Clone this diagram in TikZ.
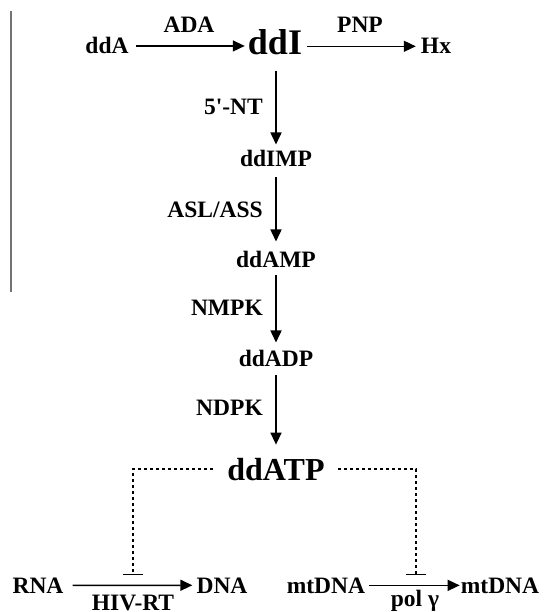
\documentclass[tikz,border=0pt]{standalone}
\usepackage{fontspec}
\setmainfont{Liberation Serif}
\usetikzlibrary{arrows.meta}
\begin{document}
\begin{tikzpicture}[x=1pt,y=-1pt,
  txt/.style={inner sep=0pt,anchor=base,font=\bfseries\fontsize{23.5}{28}\selectfont},
  lbl/.style={txt},
  lbr/.style={txt,anchor=base east},
  big/.style={inner sep=0pt,anchor=base,font=\bfseries\fontsize{36}{40}\selectfont},
  mid/.style={inner sep=0pt,anchor=base,font=\bfseries\fontsize{32}{36}\selectfont},
  arr/.style={line width=1.5pt,-{Triangle[length=12pt,width=11pt]}},
  dsh/.style={line width=1.4pt,dash pattern=on 3.5pt off 2.5pt,-{Bar[width=20pt,line width=1.5pt]}},
  sidebar/.style={draw=black!55,line width=1.3pt}]
\useasboundingbox (0,0) rectangle (544,612);
\draw[sidebar] (11,11) -- (11,292);
% metabolites
\node[txt] (ddA) at (107,54) {ddA};
\node[big] (ddI) at (275,55) {ddI};
\node[txt] (Hx) at (436,54) {Hx};
\node[txt] (ddIMP) at (276,167) {ddIMP};
\node[txt] (ddAMP) at (276,267) {ddAMP};
\node[txt] (ddADP) at (276,366) {ddADP};
\node[mid] (ddATP) at (276,480) {ddATP};
\node[txt] (RNA) at (38,593) {RNA};
\node[txt] (DNA) at (222,593) {DNA};
\node[txt] (mtA) at (326,593) {mtDNA};
\node[txt] (mtB) at (500,593) {mtDNA};
% enzyme labels
\node[lbl] (ADA) at (189,33) {ADA};
\node[lbl] (PNP) at (360,33) {PNP};
\node[lbr] (NT) at (263,115) {5\textquotesingle-NT};
\node[lbr] (ASL) at (263,218) {ASL/ASS};
\node[lbr] (NMPK) at (263,315) {NMPK};
\node[lbr] (NDPK) at (263,415) {NDPK};
\node[lbl] (HIV) at (133,610) {HIV-RT};
\node[lbl] (pol) at (415,606) {pol γ};
% arrows
\draw[arr,shorten <=7pt,shorten >=3pt] (ddA.east) -- (ddA.east -| ddI.west);
\draw[arr,shorten <=5pt,shorten >=5pt] (ddI.east |- Hx.west) -- (Hx.west);
\draw[arr,shorten <=15pt,shorten >=6pt] (ddI.south -| ddIMP.north) -- (ddIMP.north);
\draw[arr,shorten <=10pt,shorten >=9pt] (ddIMP.south) -- (ddAMP.north);
\draw[arr,shorten <=8pt,shorten >=7pt] (ddAMP.south) -- (ddADP.north);
\draw[arr,shorten <=9pt,shorten >=13pt] (ddADP.south) -- (ddATP.north);
\draw[arr,shorten <=9pt,shorten >=4pt] (RNA.east) -- (DNA.west);
\draw[arr,shorten <=4pt,shorten >=1pt] (mtA.east) -- (mtB.west);
% inhibition
\coordinate (inhL) at (133,575);
\coordinate (inhR) at (416,575);
\draw[dsh,shorten <=14pt] (ddATP.west) -| (inhL);
\draw[dsh,shorten <=13pt] (ddATP.east) -| (inhR);
\end{tikzpicture}
\end{document}
